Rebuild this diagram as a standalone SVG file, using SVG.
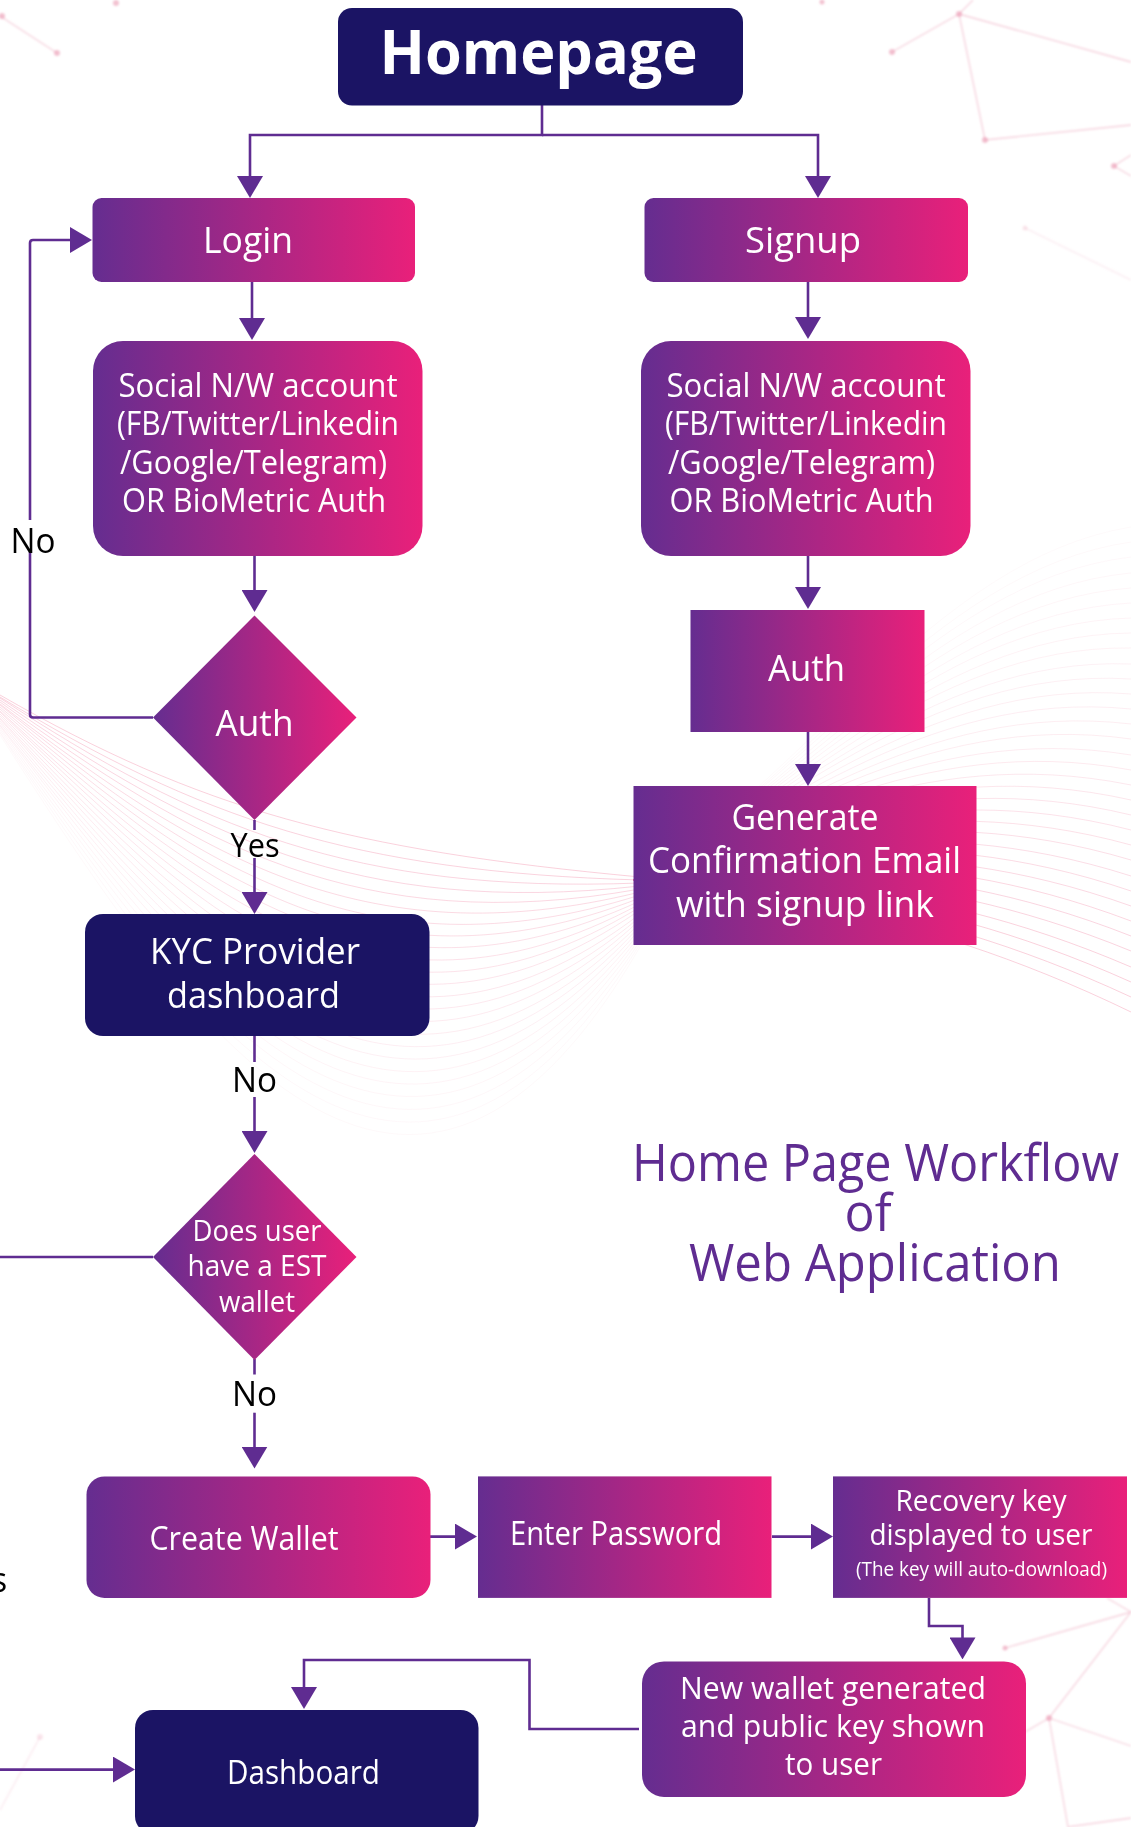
<svg xmlns="http://www.w3.org/2000/svg" width="1131" height="1827" viewBox="0 0 1131 1827">
<style>
.t{font-family:"Open Sans","Noto Sans",sans-serif;font-weight:400;fill:#fff;text-anchor:middle}
.l{font-family:"Open Sans","Noto Sans",sans-serif;font-weight:400;fill:#000;text-anchor:middle}
.c{fill:none;stroke:#5f2c91;stroke-width:2.6}
.a{marker-end:url(#arrow)}
.n{fill:none;stroke:#eda5bb;stroke-width:1.3;opacity:.5}
.d{fill:#eb9ab3;opacity:.6}
.w{fill:none;stroke:#f07a9c;stroke-width:.7}
</style>
<defs>
<linearGradient id="g"><stop offset="0" stop-color="#652d90"/><stop offset="1" stop-color="#e9207a"/></linearGradient>
<marker id="arrow" markerUnits="userSpaceOnUse" markerWidth="22" markerHeight="26" viewBox="0 0 22 26" refX="12" refY="13" orient="auto"><path d="M0,0L22,13L0,26Z" fill="#5f2c91"/></marker>
<filter id="soft" x="-5%" y="-5%" width="110%" height="110%"><feGaussianBlur stdDeviation="0.8"/></filter>
</defs>
<rect width="1131" height="1827" fill="#fff"/>
<g id="background">
<g id="network" filter="url(#soft)">
<path class="n" d="M0,16L57,53M973,0L959,14L892,52M959,14L985,140L1131,125M959,14L1131,62M1131,155L1114,166L1131,176"/>
<path class="n" style="opacity:.25" d="M1025,228L1131,280M40,1737L0,1810"/>
<path class="n" d="M1005,1648L1131,1612L1049,1718L1025,1732M1107,1598L1131,1612M1049,1718L1131,1746M1049,1718L1068,1827L1131,1818"/>
<circle class="d" cx="2" cy="16" r="3"/><circle class="d" cx="57" cy="53" r="3"/><circle class="d" cx="116" cy="3" r="3"/><circle class="d" cx="959" cy="14" r="3"/><circle class="d" cx="892" cy="52" r="3"/><circle class="d" cx="985" cy="140" r="3"/><circle class="d" cx="1114" cy="166" r="3"/><circle class="d" cx="822" cy="2" r="2.5"/><circle class="d" style="opacity:.25" cx="1025" cy="228" r="2.5"/><circle class="d" cx="1005" cy="1648" r="2.5"/><circle class="d" cx="1049" cy="1718" r="3"/><circle class="d" style="opacity:.25" cx="40" cy="1737" r="3"/>
</g>
<g id="wave-left" class="w">
<path opacity=".5" d="M0,695C200,810 350,850 640,877"/><path opacity=".48" d="M0,697C199,818 352,872 640,880"/><path opacity=".46" d="M0,698C197,827 354,894 640,883"/><path opacity=".44" d="M0,700C196,835 357,917 640,886"/><path opacity=".42" d="M0,702C195,843 359,939 640,889"/><path opacity=".4" d="M0,704C193,851 361,961 640,892"/><path opacity=".38" d="M0,705C192,860 363,983 640,895"/><path opacity=".36" d="M0,707C191,868 365,1005 640,898"/><path opacity=".34" d="M0,709C190,876 367,1027 640,901"/><path opacity=".32" d="M0,711C188,884 370,1050 640,904"/><path opacity=".3" d="M0,712C187,893 372,1072 640,907"/><path opacity=".28" d="M0,714C186,901 374,1094 640,910"/><path opacity=".26" d="M0,716C184,909 376,1116 640,914"/><path opacity=".24" d="M0,718C183,917 378,1138 640,917"/><path opacity=".22" d="M0,719C182,926 380,1160 640,920"/><path opacity=".2" d="M0,721C180,934 383,1183 640,923"/><path opacity=".18" d="M0,723C179,942 385,1205 640,926"/><path opacity=".16" d="M0,725C178,950 387,1227 640,929"/><path opacity=".14" d="M0,726C177,959 389,1249 640,932"/><path opacity=".12" d="M0,728C175,967 391,1271 640,935"/><path opacity=".1" d="M0,730C174,975 393,1293 640,938"/><path opacity=".09" d="M0,732C173,983 396,1316 640,941"/><path opacity=".08" d="M0,733C171,992 398,1338 640,944"/><path opacity=".07" d="M0,735C170,1000 400,1360 640,947"/>
</g>
<g id="wave-right" class="w">
<path opacity=".06" d="M633,880C800,790 930,560 1131,527"/><path opacity=".07" d="M633,880C798,793 929,571 1131,542"/><path opacity=".08" d="M633,880C795,796 928,581 1131,557"/><path opacity=".09" d="M633,880C793,800 927,592 1131,573"/><path opacity=".1" d="M633,880C790,803 926,603 1131,588"/><path opacity=".11" d="M633,880C788,806 925,614 1131,603"/><path opacity=".12" d="M633,880C785,809 924,624 1131,618"/><path opacity=".13" d="M633,880C783,812 924,635 1131,633"/><path opacity=".14" d="M633,880C780,815 923,645 1131,648"/><path opacity=".15" d="M633,880C778,818 922,656 1131,664"/><path opacity=".16" d="M633,880C775,821 921,666 1131,679"/><path opacity=".17" d="M633,880C773,825 920,677 1131,694"/><path opacity=".18" d="M633,880C770,828 919,688 1131,709"/><path opacity=".19" d="M633,880C768,831 918,699 1131,724"/><path opacity=".2" d="M633,880C765,834 917,709 1131,739"/><path opacity=".21" d="M633,880C763,837 916,720 1131,755"/><path opacity=".23" d="M633,880C760,840 915,730 1131,770"/><path opacity=".25" d="M633,880C758,843 914,741 1131,785"/><path opacity=".27" d="M633,880C755,846 913,751 1131,800"/><path opacity=".29" d="M633,880C753,850 912,762 1131,815"/><path opacity=".31" d="M633,880C750,853 911,773 1131,830"/><path opacity=".33" d="M633,880C748,856 910,784 1131,845"/><path opacity=".35" d="M633,880C745,859 909,794 1131,860"/><path opacity=".37" d="M633,880C743,862 909,805 1131,876"/><path opacity=".39" d="M633,880C740,865 908,815 1131,891"/><path opacity=".41" d="M633,880C738,868 907,826 1131,906"/><path opacity=".43" d="M633,880C735,871 906,836 1131,921"/><path opacity=".45" d="M633,880C733,875 905,847 1131,936"/><path opacity=".47" d="M633,880C730,878 904,858 1131,951"/><path opacity=".49" d="M633,880C728,881 903,869 1131,967"/><path opacity=".5" d="M633,880C725,884 902,879 1131,982"/><path opacity=".5" d="M633,880C723,887 901,890 1131,997"/><path opacity=".5" d="M633,880C720,890 900,900 1131,1012"/>
</g>
</g>
<g id="connectors">
<path class="c a" d="M542,105V135H250V188"/>
<path class="c a" d="M542,135H818V188"/>
<path class="c a" d="M252,282V330"/>
<path class="c a" d="M808,282V329"/>
<path class="c a" d="M254.5,556V602"/>
<path class="c a" d="M808,556V599"/>
<path class="c a" d="M808,732V776"/>
<path class="c" d="M153,717.5H33Q30,717.5 30,714.5V552"/>
<path class="c a" d="M30,520V243Q30,240 33,240H82"/>
<path class="c" d="M254.5,820V830"/>
<path class="c a" d="M254.5,858V904"/>
<path class="c" d="M254.5,1036V1062"/>
<path class="c a" d="M254.5,1097V1143"/>
<path class="c" d="M0,1257H153"/>
<path class="c" d="M254.5,1359V1374.5"/>
<path class="c a" d="M254.5,1412.7V1458.6"/>
<path class="c a" d="M430,1536.6H467"/>
<path class="c a" d="M772,1536.6H823"/>
<path class="c a" d="M929,1598V1626H962.5V1649.4"/>
<path class="c a" d="M639,1729H529.5V1660H304V1699"/>
<path class="c a" d="M0,1769.6H125"/>
</g>
<g id="homepage"><rect x="338" y="8" width="405" height="97.5" rx="14" fill="#1b1464"/><text class="t" x="538.5" y="74" font-size="61" style="font-weight:700" textLength="318" lengthAdjust="spacingAndGlyphs">Homepage</text></g>
<g id="login"><rect x="92.5" y="198" width="322.5" height="84" rx="9" fill="url(#g)"/><text class="t" x="248" y="253" font-size="36" textLength="90" lengthAdjust="spacingAndGlyphs">Login</text></g>
<g id="signup"><rect x="644.5" y="198" width="323.5" height="84" rx="9" fill="url(#g)"/><text class="t" x="803" y="253" font-size="36" textLength="116" lengthAdjust="spacingAndGlyphs">Signup</text></g>
<g id="social-login"><rect x="93" y="341" width="329.5" height="215" rx="30" fill="url(#g)"/>
<text class="t" x="258" y="396.5" font-size="32" textLength="279" lengthAdjust="spacingAndGlyphs">Social N/W account</text><text class="t" x="258" y="435" font-size="32" textLength="282" lengthAdjust="spacingAndGlyphs">(FB/Twitter/Linkedin</text><text class="t" x="253.5" y="473.5" font-size="32" textLength="267" lengthAdjust="spacingAndGlyphs">/Google/Telegram)</text><text class="t" x="254" y="512" font-size="32" textLength="264" lengthAdjust="spacingAndGlyphs">OR BioMetric Auth</text></g>
<g id="social-signup"><rect x="641" y="341" width="329.5" height="215" rx="30" fill="url(#g)"/>
<text class="t" x="806" y="396.5" font-size="32" textLength="279" lengthAdjust="spacingAndGlyphs">Social N/W account</text><text class="t" x="806" y="435" font-size="32" textLength="282" lengthAdjust="spacingAndGlyphs">(FB/Twitter/Linkedin</text><text class="t" x="801.5" y="473.5" font-size="32" textLength="267" lengthAdjust="spacingAndGlyphs">/Google/Telegram)</text><text class="t" x="801.5" y="512" font-size="32" textLength="264" lengthAdjust="spacingAndGlyphs">OR BioMetric Auth</text></g>
<g id="auth-decision"><polygon points="254.5,615.5 356.5,717.5 254.5,820 153,717.5" fill="url(#g)"/><text class="t" x="254.5" y="736" font-size="36" textLength="78" lengthAdjust="spacingAndGlyphs">Auth</text></g>
<g id="auth-box"><rect x="690.5" y="610" width="234" height="122" fill="url(#g)"/><text class="t" x="806.5" y="681" font-size="36" textLength="77" lengthAdjust="spacingAndGlyphs">Auth</text></g>
<g id="generate"><rect x="633.5" y="786" width="343" height="159" fill="url(#g)"/><text class="t" x="805" y="829.5" font-size="37" textLength="147" lengthAdjust="spacingAndGlyphs">Generate</text><text class="t" x="804.5" y="873" font-size="37" textLength="313" lengthAdjust="spacingAndGlyphs">Confirmation Email</text><text class="t" x="805" y="916.5" font-size="37" textLength="258" lengthAdjust="spacingAndGlyphs">with signup link</text></g>
<g id="kyc"><rect x="85" y="914" width="344.5" height="122" rx="18" fill="#1b1464"/><text class="t" x="255" y="964" font-size="36" textLength="210" lengthAdjust="spacingAndGlyphs">KYC Provider</text><text class="t" x="253.5" y="1008" font-size="36" textLength="173" lengthAdjust="spacingAndGlyphs">dashboard</text></g>
<g id="wallet-decision"><polygon points="254.5,1154 356.5,1257 254.5,1360 153,1257" fill="url(#g)"/><text class="t" x="257" y="1241" font-size="29" textLength="129" lengthAdjust="spacingAndGlyphs">Does user</text><text class="t" x="257" y="1276" font-size="29" textLength="139" lengthAdjust="spacingAndGlyphs">have a EST</text><text class="t" x="257" y="1312" font-size="29" textLength="76" lengthAdjust="spacingAndGlyphs">wallet</text></g>
<g id="create-wallet"><rect x="86.5" y="1476.4" width="344" height="121.5" rx="18" fill="url(#g)"/><text class="t" x="244" y="1549.6" font-size="32" textLength="189" lengthAdjust="spacingAndGlyphs">Create Wallet</text></g>
<g id="enter-password"><rect x="478" y="1476.4" width="293.5" height="121.5" fill="url(#g)"/><text class="t" x="616" y="1544.5" font-size="32" textLength="212" lengthAdjust="spacingAndGlyphs">Enter Password</text></g>
<g id="recovery"><rect x="833" y="1476.4" width="294" height="121.5" fill="url(#g)"/><text class="t" x="981" y="1511" font-size="30" textLength="171" lengthAdjust="spacingAndGlyphs">Recovery key</text><text class="t" x="981" y="1544.5" font-size="30" textLength="223" lengthAdjust="spacingAndGlyphs">displayed to user</text><text class="t" x="981.5" y="1576" font-size="20" textLength="251" lengthAdjust="spacingAndGlyphs">(The key will auto-download)</text></g>
<g id="new-wallet"><rect x="642" y="1661.4" width="384" height="135.6" rx="22" fill="url(#g)"/><text class="t" x="833" y="1699" font-size="31" textLength="306" lengthAdjust="spacingAndGlyphs">New wallet generated</text><text class="t" x="833" y="1737.4" font-size="31" textLength="304" lengthAdjust="spacingAndGlyphs">and public key shown</text><text class="t" x="833.5" y="1774.7" font-size="31" textLength="97" lengthAdjust="spacingAndGlyphs">to user</text></g>
<g id="dashboard"><rect x="135" y="1710" width="343.5" height="124" rx="18" fill="#1b1464"/><text class="t" x="303.5" y="1784" font-size="32" textLength="153" lengthAdjust="spacingAndGlyphs">Dashboard</text></g>
<g id="labels">
<text class="l" x="33" y="553" font-size="35" textLength="45" lengthAdjust="spacingAndGlyphs">No</text>
<text class="l" x="255" y="856.5" font-size="32" textLength="49" lengthAdjust="spacingAndGlyphs">Yes</text>
<text class="l" x="254.5" y="1092" font-size="35" textLength="45" lengthAdjust="spacingAndGlyphs">No</text>
<text class="l" x="254.5" y="1406" font-size="35" textLength="45" lengthAdjust="spacingAndGlyphs">No</text>
<text class="l" x="-1" y="1592" font-size="34">s</text>
</g>
<g id="title" style="font-family:'Open Sans','Noto Sans',sans-serif;font-weight:400;fill:#5f2c91;text-anchor:middle">
<text x="875.5" y="1181" font-size="51" textLength="487" lengthAdjust="spacingAndGlyphs">Home Page Workflow</text>
<text x="868" y="1231" font-size="51" textLength="47" lengthAdjust="spacingAndGlyphs">of</text>
<text x="875" y="1281" font-size="51" textLength="372" lengthAdjust="spacingAndGlyphs">Web Application</text>
</g>
</svg>
